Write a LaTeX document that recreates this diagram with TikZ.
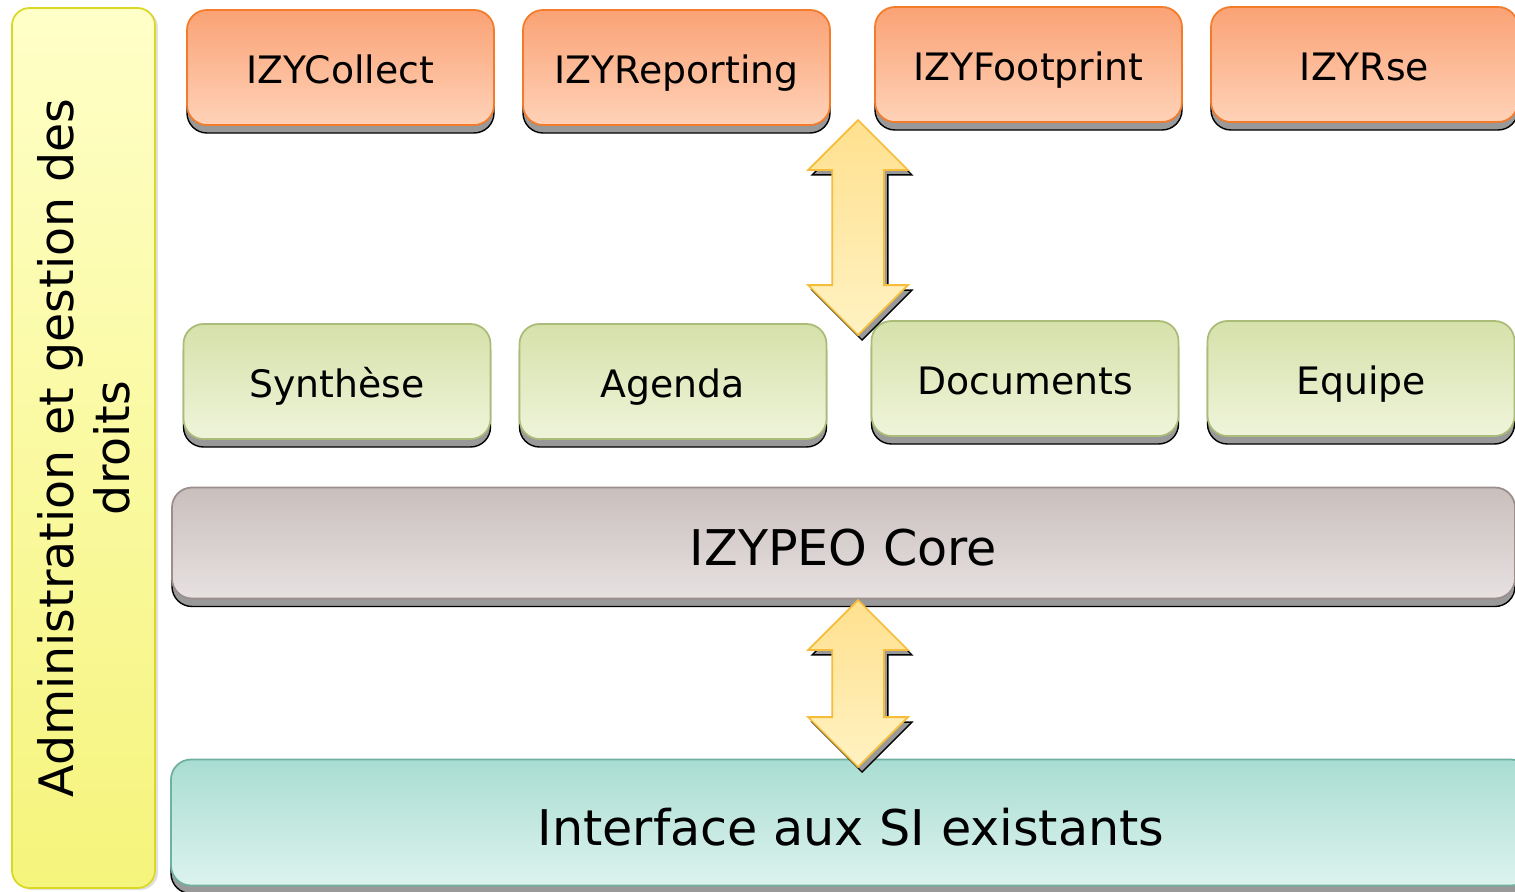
\documentclass[tikz,border=0pt]{standalone}
\usepackage{fontspec}
\setmainfont{DejaVu Sans}
\usetikzlibrary{positioning,shapes.arrows,shadows}

\definecolor{orangeline}{HTML}{F47B2A}
\definecolor{orangetop}{HTML}{FAA275}
\definecolor{orangebot}{HTML}{FFD2B8}
\definecolor{greenline}{HTML}{ABBB78}
\definecolor{greentop}{HTML}{D6E1AA}
\definecolor{greenbot}{HTML}{EFF4DA}
\definecolor{coreline}{HTML}{9C8E8C}
\definecolor{coretop}{HTML}{C9BFBD}
\definecolor{corebot}{HTML}{E7E1E1}
\definecolor{ifaceline}{HTML}{6FB1A1}
\definecolor{ifacetop}{HTML}{A9DDD2}
\definecolor{ifacebot}{HTML}{DDF3EE}
\definecolor{adminline}{HTML}{D9D825}
\definecolor{admintop}{HTML}{FFFFC8}
\definecolor{adminbot}{HTML}{F5F47C}
\definecolor{arrowline}{HTML}{F5BD3A}
\definecolor{arrowtop}{HTML}{FFE08E}
\definecolor{arrowbot}{HTML}{FFF2C2}

\begin{document}
\begin{tikzpicture}[
		box/.style={rounded corners=0.4cm, minimum width=6.14cm, minimum height=2.3cm,
			outer sep=0pt, inner sep=0pt, line width=1pt, font=\fontsize{21.5}{25}\selectfont,
			text height=22pt, text depth=4pt,
			general shadow={shadow yshift=-0.16cm, fill=black!40, draw=black, line width=0.8pt}},
		module/.style={box, draw=orangeline, top color=orangetop, bottom color=orangebot},
		tab/.style={box, draw=greenline, top color=greentop, bottom color=greenbot},
		core/.style={box, minimum width=26.86cm, minimum height=2.22cm, draw=coreline,
			top color=coretop, bottom color=corebot, font=\fontsize{28}{32}\selectfont,
			text height=30pt, text depth=4pt},
		iface/.style={box, minimum width=27.2cm, minimum height=2.52cm, draw=ifaceline,
			top color=ifacetop, bottom color=ifacebot, font=\fontsize{28}{32}\selectfont,
			text height=30pt, text depth=4pt},
		admin/.style={rounded corners=0.35cm, rotate=90, minimum width=17.6cm, minimum height=2.86cm,
			outer sep=0pt, line width=1pt, draw=adminline, top color=admintop, bottom color=adminbot,
			align=center, font=\fontsize{27}{32}\selectfont,
			general shadow={shadow xshift=0.06cm, shadow yshift=-0.04cm, fill=black!12}},
		link/.style={double arrow, shape border rotate=90, double arrow head extend=0.48cm,
			inner sep=0.5cm, minimum width=1.96cm, line width=1pt, draw=arrowline,
			top color=arrowtop, bottom color=arrowbot,
			general shadow={shadow xshift=0.08cm, shadow yshift=-0.1cm, fill=black!40, draw=black, line width=0.8pt}}
	]
	\useasboundingbox (0,0) rectangle (30.3,-17.84);
	
	% Modules
	\node[module]                                    (collect)   at (6.81,-1.35) {IZYCollect};
	\node[module, right=0.58cm of collect]            (reporting) {IZYReporting};
	\node[module, right=0.9cm of reporting, yshift=0.06cm] (footprint) {IZYFootprint};
	\node[module, right=0.58cm of footprint]          (rse)       {IZYRse};
	
	% Tabs
	\node[tab, below=3.98cm of collect, xshift=-0.07cm]  (synthese)  {Synthèse};
	\node[tab, right=0.58cm of synthese]             (agenda)    {Agenda};
	\node[tab, right=0.9cm of agenda, yshift=0.06cm]  (documents) {Documents};
	\node[tab, right=0.58cm of documents]            (equipe)    {Equipe};
	
	% Core and interface
	\node[core, below=0.97cm of synthese.south west, anchor=north west, xshift=-0.23cm] (izypeo) {IZYPEO Core};
	\node[iface, below=3.22cm of izypeo.south west, anchor=north west, xshift=-0.02cm] (si) {Interface aux SI existants};
	
	% Administration
	\node[admin] (rights) at (1.67,-8.96) {Administration et gestion des\\droits};
	
	% Exchanges
	\node[link, minimum height=4.3cm]  (modlink)  at (17.16,-4.55) {};
	\node[link, minimum height=3.34cm] (corelink) at (17.16,-13.67) {};
	
\end{tikzpicture}
\end{document}
